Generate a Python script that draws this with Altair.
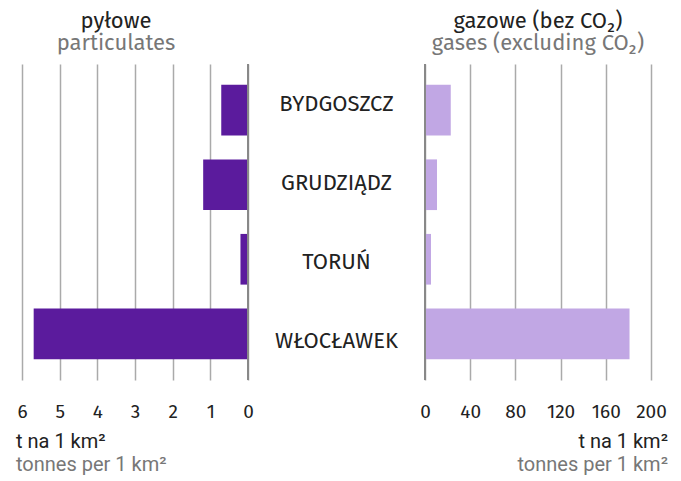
import altair as alt
import pandas as pd

cities = ["BYDGOSZCZ", "GRUDZIĄDZ", "TORUŃ", "WŁOCŁAWEK"]
particulates = [0.71, 1.19, 0.20, 5.69]
gases = [22.8, 10.6, 5.3, 181.0]
left_ticks = [0, 1, 2, 3, 4, 5, 6]
right_ticks = [0, 40, 80, 120, 160, 200]
unit_pl = "t na 1 km²"
unit_en = "tonnes per 1 km²"

df = pd.DataFrame({"city": cities, "p": particulates, "g": gases})
units = pd.DataFrame({"pl": [unit_pl], "en": [unit_en]})

W = 226
H = 316
MID = 165
FONT = "Fira Sans, Lato"
DARK = "#222222"
GRAY = "#777777"

yenc = alt.Y("city:N", sort=cities, axis=None,
             scale=alt.Scale(paddingInner=0.32, paddingOuter=0.28))


def xaxis(vals):
    return alt.Axis(values=vals, grid=True, gridColor="#aaaaaa", gridWidth=1.5,
                    domain=False, ticks=False, labelPadding=22, labelFontSize=19,
                    labelFont=FONT, labelColor=DARK, title=None, labelFlush=False,
                    labelOverlap=False, tickCount=len(vals))


def unit_text(x, align):
    base = alt.Chart(units)
    t1 = base.mark_text(align=align, baseline="middle", fontSize=20, font="Roboto",
                        color=DARK).encode(x=alt.value(x), y=alt.value(H + 62), text="pl:N")
    t2 = base.mark_text(align=align, baseline="middle", fontSize=20, font="Roboto",
                        color=GRAY).encode(x=alt.value(x), y=alt.value(H + 85), text="en:N")
    return t1 + t2


def title(main, sub, dx=0):
    return alt.TitleParams(text=main, subtitle=sub, fontSize=22, subtitleFontSize=22,
                           font=FONT, subtitleFont=FONT, fontWeight="normal",
                           color=DARK, subtitleColor=GRAY, anchor="middle", dx=dx,
                           offset=8, subtitlePadding=0)


lscale = alt.Scale(domain=[0, 6], reverse=True)
rscale = alt.Scale(domain=[0, 200])

left_bars = alt.Chart(df).mark_bar(color="#5b1b9d").encode(
    x=alt.X("p:Q", scale=lscale, axis=xaxis(left_ticks)),
    y=yenc,
)
left_zero = alt.Chart(df).mark_rule(color="#888888", strokeWidth=1.5).encode(
    x=alt.XDatum(0, scale=lscale, axis=xaxis(left_ticks)))
left = alt.layer(left_bars, left_zero, unit_text(-6, "left")).properties(
    width=W, height=H, title=title("pyłowe", "particulates", dx=-19))

mid = alt.Chart(df).mark_text(fontSize=22, font=FONT, color=DARK).encode(
    y=yenc, x=alt.value(MID / 2), text="city:N"
).properties(width=MID, height=H, title=title(" ", " "))

right_bars = alt.Chart(df).mark_bar(color="#c1a7e4").encode(
    x=alt.X("g:Q", scale=rscale, axis=xaxis(right_ticks)),
    y=yenc,
)
right_zero = alt.Chart(df).mark_rule(color="#888888", strokeWidth=1.5).encode(
    x=alt.XDatum(0, scale=rscale, axis=xaxis(right_ticks)))
right = alt.layer(right_bars, right_zero, unit_text(W + 17, "right")).properties(
    width=W, height=H, title=title("gazowe (bez CO₂)", "gases (excluding CO₂)"))

chart = alt.hconcat(left, mid, right, spacing=0).properties(
    padding={"left": 8, "top": 2, "right": 0, "bottom": 0},
    background="white",
).configure_view(stroke=None)

chart.save("out.html", embed_options={"renderer": "svg", "actions": False})
